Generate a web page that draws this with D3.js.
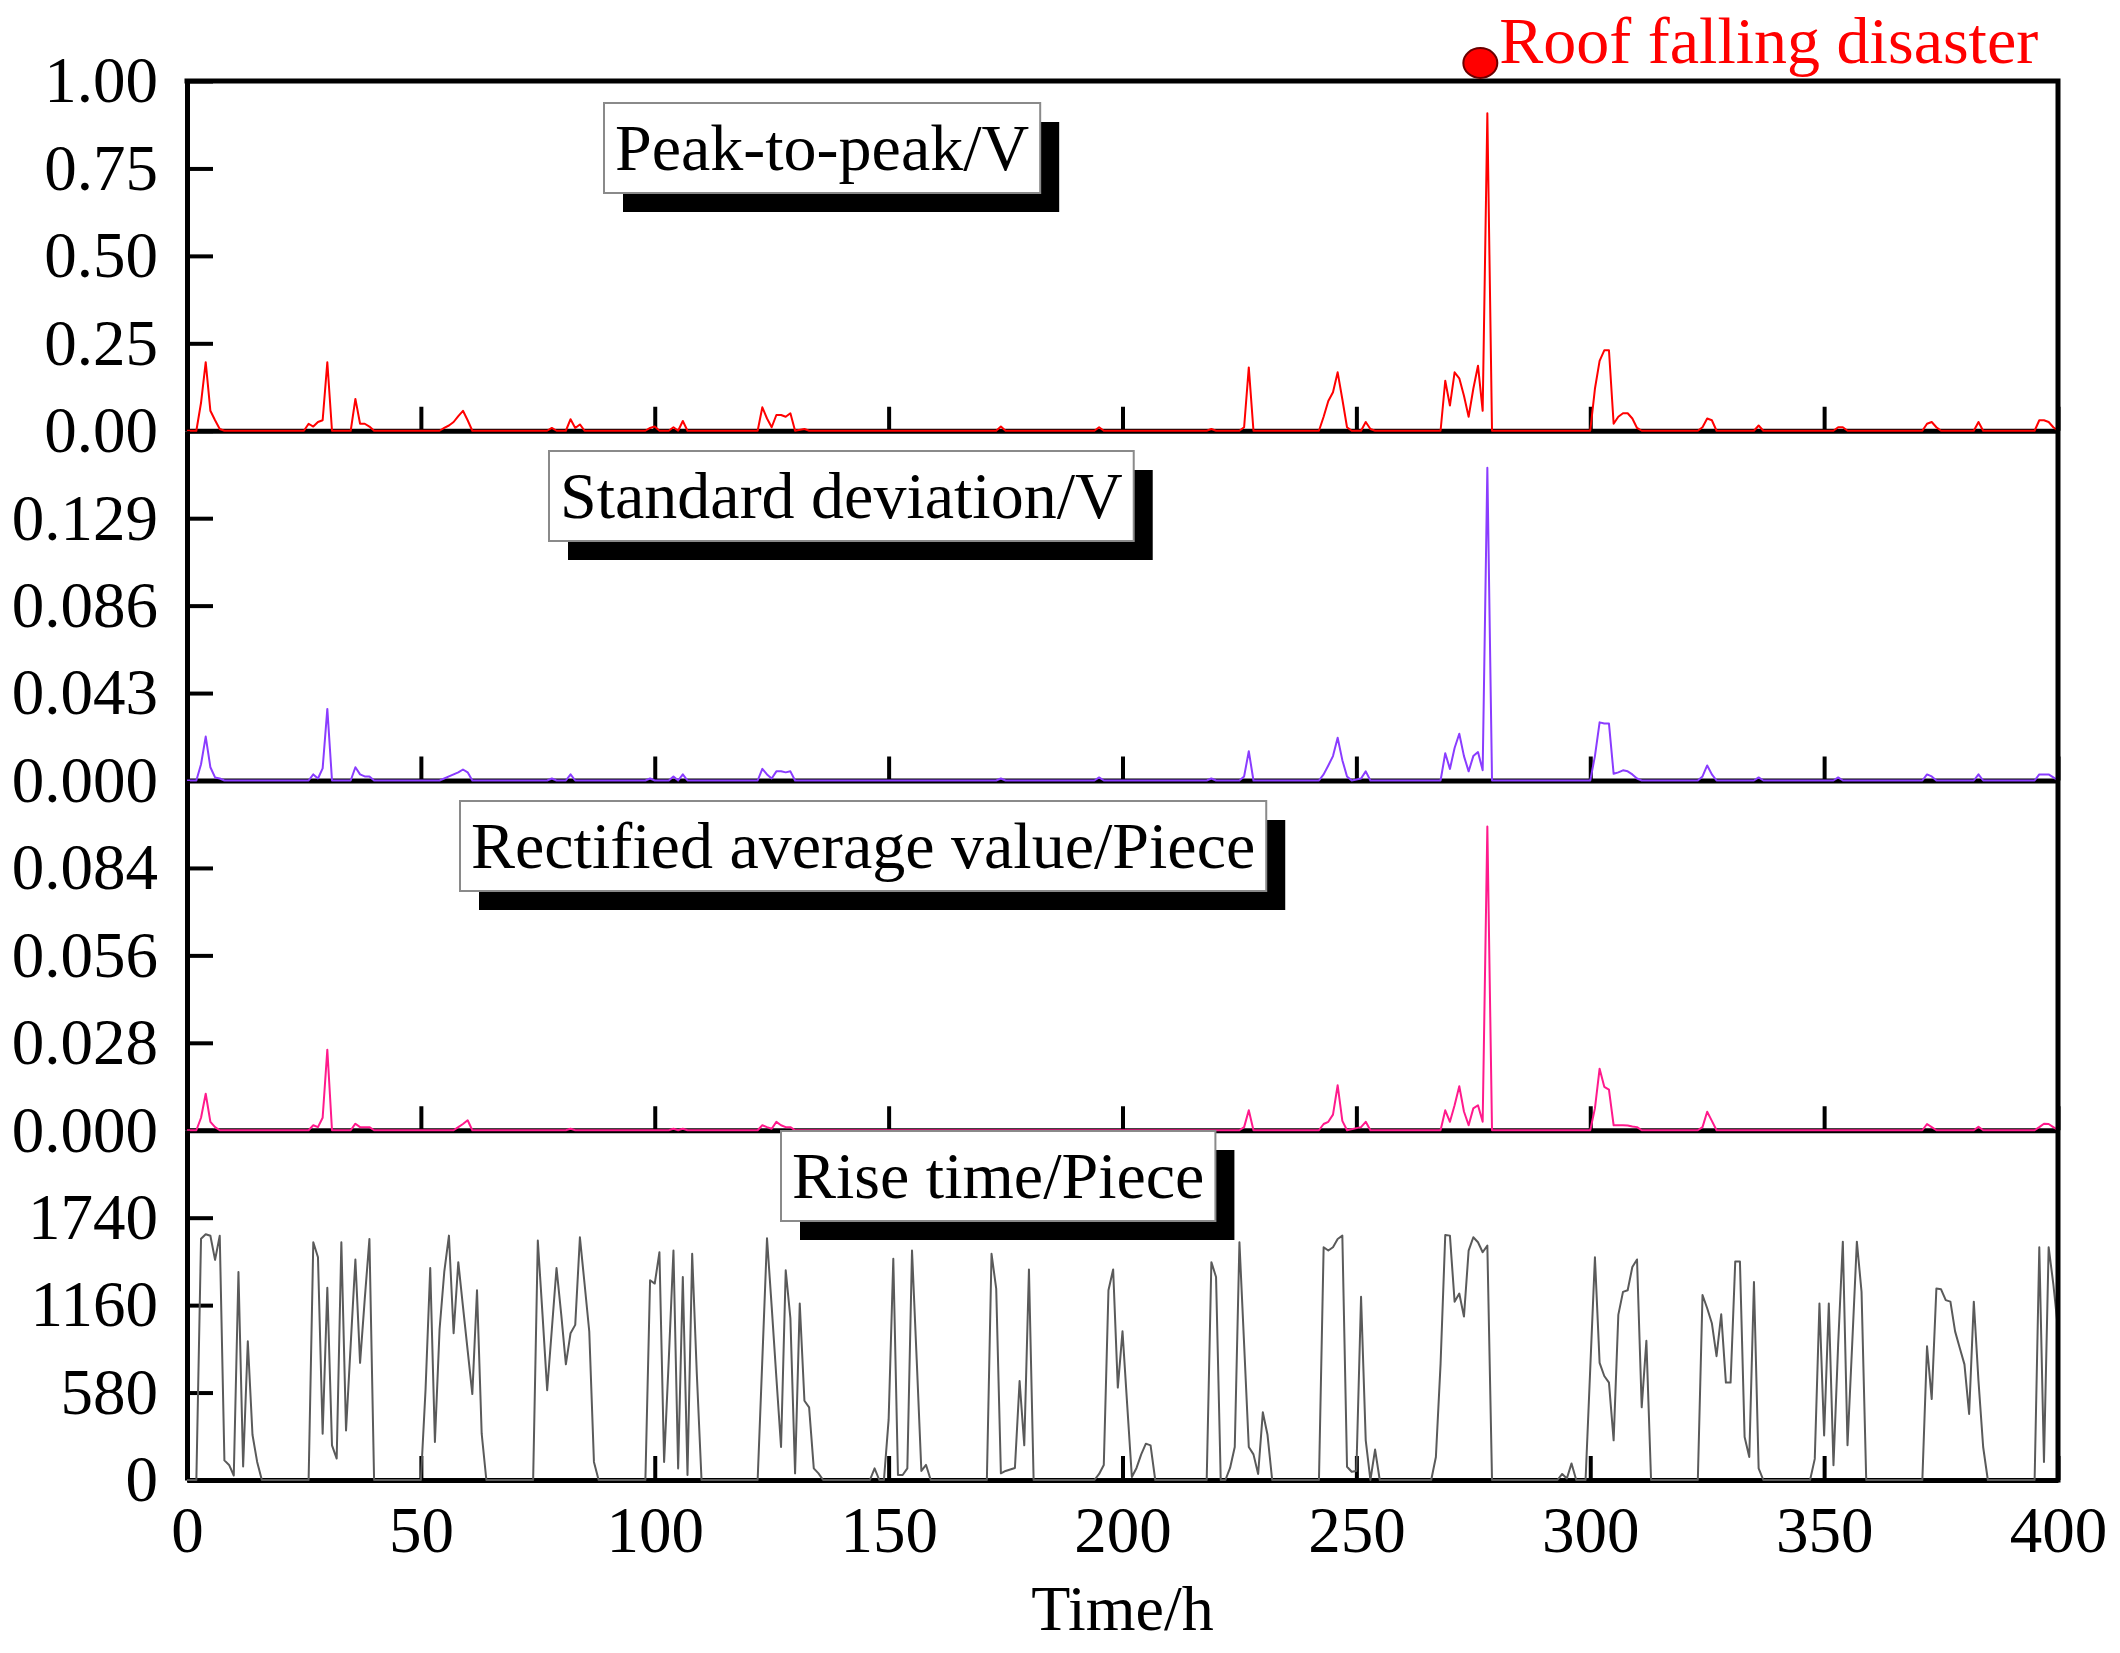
<!DOCTYPE html>
<html>
<head>
<meta charset="utf-8">
<script src="https://cdn.jsdelivr.net/npm/d3@7"></script>
<style>
  body { margin: 0; background: #fff; }
  svg { display: block; font-family: "Liberation Serif", "Times New Roman", serif; }
</style>
</head>
<body>
<div id="chart"></div>
<script>
// x axis
const xTickValues = [0, 50, 100, 150, 200, 250, 300, 350, 400];
const xAxisTitle = "Time/h";

// disaster marker
const disasterLabel = "Roof falling disaster";
const disasterHour = 276.5;

// panel names, y ranges and tick values
const panelNames = ["Peak-to-peak/V", "Standard deviation/V", "Rectified average value/Piece", "Rise time/Piece"];
const yMaxes = [1.0, 0.172, 0.112, 2320];
const ppTicks = [0, 0.25, 0.5, 0.75, 1.0];
const sdTicks = [0, 0.043, 0.086, 0.129];
const raTicks = [0, 0.028, 0.056, 0.084];
const rtTicks = [0, 580, 1160, 1740];

// [hour, value]
const peakToPeak = [
  [0,0],[2,0],[3,0.08],[4,0.196],[5,0.057],[6,0.03],[7,0.005],[8,0],
  [25,0],[26,0.02],[27,0.012],[28,0.025],[29,0.03],[30,0.196],[31,0],
  [35,0],[36,0.091],[37,0.02],[38,0.02],[39,0.012],[40,0],
  [54,0],[55,0.008],[56,0.015],[57,0.025],[58,0.042],[59,0.057],[60,0.03],[61,0],
  [77,0],[78,0.008],[79,0],[81,0],[82,0.033],[83,0.008],[84,0.018],[85,0],
  [98,0],[99,0.008],[100,0.012],[101,0],[103,0],[104,0.01],[105,0],[106,0.028],[107,0],
  [122,0],[123,0.067],[124,0.035],[125,0.01],[126,0.045],[127,0.045],[128,0.04],[129,0.05],[130,0],[132,0.005],[133,0],
  [173,0],[174,0.012],[175,0],[194,0],[195,0.01],[196,0],
  [218,0],[219,0.005],[220,0],[225,0],[226,0.01],[227,0.181],[228,0],
  [242,0],[243,0.04],[244,0.085],[245,0.11],[246,0.167],[247,0.09],[248,0.01],[249,0],[251,0],[252,0.025],[253,0.005],[254,0],
  [268,0],[269,0.143],[270,0.072],[271,0.167],[272,0.15],[273,0.1],[274,0.04],[275,0.12],[276,0.186],[277,0.057],[278,0.908],[279,0],
  [300,0],[301,0.12],[302,0.2],[303,0.23],[304,0.23],[305,0.02],[306,0.04],[307,0.05],[308,0.05],[309,0.035],[310,0.008],[311,0],
  [323,0],[324,0.01],[325,0.035],[326,0.03],[327,0],[335,0],[336,0.015],[337,0],
  [352,0],[353,0.01],[354,0.01],[355,0],
  [371,0],[372,0.02],[373,0.025],[374,0.01],[375,0],[382,0],[383,0.025],[384,0],
  [395,0],[396,0.03],[397,0.03],[398,0.025],[399,0.01],[400,0]
];

const stdDev = [
  [0,0],[2,0],[3,0.008],[4,0.0216],[5,0.0065],[6,0.0015],[7,0.001],[8,0],
  [26,0],[27,0.003],[28,0.001],[29,0.006],[30,0.0352],[31,0],
  [35,0],[36,0.0065],[37,0.003],[38,0.002],[39,0.002],[40,0],
  [54,0],[55,0.001],[56,0.002],[57,0.003],[58,0.004],[59,0.0054],[60,0.004],[61,0],
  [77,0],[78,0.001],[79,0],[81,0],[82,0.003],[83,0],
  [98,0],[99,0.001],[100,0],[103,0],[104,0.002],[105,0],[106,0.003],[107,0],
  [122,0],[123,0.0057],[124,0.003],[125,0.001],[126,0.0045],[127,0.0045],[128,0.004],[129,0.0045],[130,0],
  [173,0],[174,0.001],[175,0],[194,0],[195,0.0015],[196,0],
  [218,0],[219,0.001],[220,0],[225,0],[226,0.002],[227,0.0144],[228,0],
  [242,0],[243,0.003],[244,0.0074],[245,0.012],[246,0.021],[247,0.01],[248,0.002],[249,0],[251,0.001],[252,0.0045],[253,0],
  [268,0],[269,0.0134],[270,0.0057],[271,0.016],[272,0.023],[273,0.012],[274,0.0045],[275,0.012],[276,0.014],[277,0.005],[278,0.1538],[279,0],
  [300,0],[301,0.012],[302,0.0286],[303,0.028],[304,0.028],[305,0.0033],[306,0.004],[307,0.005],[308,0.0045],[309,0.003],[310,0.001],[311,0],
  [323,0],[324,0.002],[325,0.0074],[326,0.003],[327,0],[335,0],[336,0.0015],[337,0],[352,0],[353,0.0015],[354,0],
  [371,0],[372,0.003],[373,0.002],[374,0],[382,0],[383,0.003],[384,0],
  [395,0],[396,0.003],[397,0.003],[398,0.003],[399,0.0015],[400,0]
];

const rectAvg = [
  [0,0],[2,0],[3,0.004],[4,0.0117],[5,0.0027],[6,0.001],[7,0],
  [26,0],[27,0.0016],[28,0.001],[29,0.004],[30,0.0258],[31,0],
  [35,0],[36,0.0021],[37,0.001],[38,0.001],[39,0.001],[40,0],
  [57,0],[58,0.001],[59,0.002],[60,0.0032],[61,0],
  [81,0],[82,0.0005],[83,0],[103,0],[104,0.0005],[105,0],[106,0.0005],[107,0],
  [122,0],[123,0.0016],[124,0.001],[125,0.0005],[126,0.0027],[127,0.0016],[128,0.001],[129,0.001],[130,0],
  [225,0],[226,0.001],[227,0.0064],[228,0],
  [242,0],[243,0.002],[244,0.0027],[245,0.005],[246,0.0144],[247,0.003],[248,0],[251,0.001],[252,0.0027],[253,0],
  [268,0],[269,0.0064],[270,0.0027],[271,0.008],[272,0.0141],[273,0.006],[274,0.0016],[275,0.007],[276,0.008],[277,0.0027],[278,0.0973],[279,0],
  [300,0],[301,0.007],[302,0.0197],[303,0.0139],[304,0.013],[305,0.0016],[306,0.0016],[307,0.0016],[308,0.0015],[309,0.0012],[310,0.001],[311,0],
  [323,0],[324,0.001],[325,0.0059],[326,0.003],[327,0],
  [371,0],[372,0.002],[373,0.001],[374,0],[382,0],[383,0.0011],[384,0],
  [395,0],[396,0.001],[397,0.0021],[398,0.002],[399,0.001],[400,0]
];

const riseTime = [
  [0,0],[2,0],[3,1600],[4,1630],[5,1620],[6,1460],[7,1620],[8,130],[9,100],[10,30],[11,1380],[12,90],[13,920],[14,300],[15,120],[16,0],
  [26,0],[27,1577],[28,1478],[29,307],[30,1275],[31,230],[32,142],[33,1577],[34,329],[35,900],[36,1463],[37,777],[38,1200],[39,1599],[40,0],
  [50,0],[51,600],[52,1406],[53,252],[54,1000],[55,1380],[56,1621],[57,974],[58,1445],[59,1150],[60,860],[61,570],[62,1259],[63,307],[64,0],
  [74,0],[75,1588],[76,1100],[77,596],[78,1000],[79,1406],[80,1100],[81,767],[82,974],[83,1029],[84,1610],[85,1300],[86,985],[87,120],[88,0],
  [98,0],[99,1325],[100,1303],[101,1511],[102,120],[103,800],[104,1522],[105,77],[106,1347],[107,33],[108,1500],[109,700],[110,0],
  [122,0],[123,800],[124,1603],[125,1150],[126,680],[127,219],[128,1391],[129,1073],[130,44],[131,1171],[132,526],[133,482],[134,77],[135,44],[136,0],
  [146,0],[147,77],[148,0],[149,0],[150,400],[151,1467],[152,33],[153,33],[154,77],[155,1522],[156,800],[157,60],[158,100],[159,0],
  [171,0],[172,1500],[173,1270],[174,44],[175,60],[176,70],[177,80],[178,657],[179,230],[180,1397],[181,0],
  [194,0],[195,40],[196,100],[197,1259],[198,1397],[199,613],[200,986],[201,500],[202,20],[203,80],[204,170],[205,241],[206,230],[207,0],
  [218,0],[219,1445],[220,1347],[221,0],[222,0],[223,80],[224,219],[225,1577],[226,900],[227,219],[228,170],[229,40],[230,449],[231,300],[232,0],
  [242,0],[243,1544],[244,1522],[245,1544],[246,1599],[247,1621],[248,88],[249,55],[250,60],[251,1215],[252,263],[253,0],[254,202],[255,0],
  [266,0],[267,153],[268,770],[269,1625],[270,1621],[271,1183],[272,1237],[273,1084],[274,1522],[275,1610],[276,1577],[277,1511],[278,1555],[279,0],
  [293,0],[294,40],[295,10],[296,110],[297,0],[299,0],[300,740],[301,1478],[302,777],[303,690],[304,646],[305,263],[306,1095],[307,1248],[308,1259],[309,1413],[310,1463],[311,482],[312,924],[313,0],
  [323,0],[324,1227],[325,1139],[326,1040],[327,821],[328,1099],[329,646],[330,646],[331,1450],[332,1450],[333,285],[334,153],[335,1314],[336,77],[337,0],
  [347,0],[348,140],[349,1171],[350,296],[351,1171],[352,98],[353,900],[354,1581],[355,230],[356,900],[357,1581],[358,1248],[359,0],
  [371,0],[372,887],[373,537],[374,1270],[375,1265],[376,1193],[377,1183],[378,986],[379,876],[380,767],[381,438],[382,1183],[383,657],[384,219],[385,0],
  [395,0],[396,1544],[397,120],[398,1544],[399,1300],[400,1000]
];

const W = 2120, H = 1653;
const plotLeft = 187, plotRight = 2058, plotTop = 81, panelH = 349.75;
const plotBottom = plotTop + 4 * panelH;

const svg = d3.select("#chart").append("svg")
    .attr("width", W)
    .attr("height", H);

const x = d3.scaleLinear().domain([0, 400]).range([plotLeft, plotRight]);

const panels = [
    { name: panelNames[0], data: peakToPeak, max: yMaxes[0], ticks: ppTicks, fmt: d3.format(".2f"), color: "#ff0000", box: [604, 103] },
    { name: panelNames[1], data: stdDev, max: yMaxes[1], ticks: sdTicks, fmt: d3.format(".3f"), color: "#8a3cff", box: [549, 451] },
    { name: panelNames[2], data: rectAvg, max: yMaxes[2], ticks: raTicks, fmt: d3.format(".3f"), color: "#ff1a8c", box: [460, 801] },
    { name: panelNames[3], data: riseTime, max: yMaxes[3], ticks: rtTicks, fmt: d3.format("d"), color: "#5a5a5a", box: [781, 1131] }
];

function styleAxis(g, size) {
    g.attr("font-family", null).attr("font-size", null);
    g.select(".domain").attr("stroke", "#000").attr("stroke-width", 5);
    g.selectAll(".tick line").attr("stroke", "#000").attr("stroke-width", 4);
    g.selectAll(".tick text").attr("fill", "#000").attr("font-size", size);
}

panels.forEach((p, i) => {
    const top = plotTop + i * panelH;
    const bottom = top + panelH;
    const y = d3.scaleLinear().domain([0, p.max]).range([bottom, top]);
    const g = svg.append("g");

    const xAxis = d3.axisBottom(x)
        .tickValues(xTickValues)
        .tickSizeInner(-24)
        .tickSizeOuter(0)
        .tickPadding(26)
        .tickFormat(i === 3 ? d3.format("d") : () => "");
    g.append("g")
        .attr("transform", `translate(0,${bottom})`)
        .call(xAxis)
        .call(a => styleAxis(a, 65));

    const yAxis = d3.axisLeft(y)
        .tickValues(p.ticks)
        .tickSizeInner(-26)
        .tickSizeOuter(0)
        .tickPadding(29)
        .tickFormat(p.fmt);
    g.append("g")
        .attr("transform", `translate(${plotLeft},0)`)
        .call(yAxis)
        .call(a => styleAxis(a, 65));

    const line = d3.line().x(d => x(d[0])).y(d => y(d[1]));
    g.append("path")
        .datum(p.data)
        .attr("d", line)
        .attr("fill", "none")
        .attr("stroke", p.color)
        .attr("stroke-width", 2)
        .attr("stroke-linejoin", "round");

    // label box with black shadow
    const bx = p.box[0], by = p.box[1];
    const lbl = g.append("g");
    const txt = lbl.append("text")
        .attr("x", bx + 11)
        .attr("y", by + 67)
        .attr("font-size", 66)
        .attr("fill", "#000")
        .text(p.name);
    const bw = txt.node().getComputedTextLength() + 22;
    lbl.insert("rect", "text")
        .attr("x", bx + 19).attr("y", by + 19)
        .attr("width", bw).attr("height", 90)
        .attr("fill", "#000");
    lbl.insert("rect", "text")
        .attr("x", bx).attr("y", by)
        .attr("width", bw).attr("height", 90)
        .attr("fill", "#fff")
        .attr("stroke", "#8a8a8a")
        .attr("stroke-width", 2);
});

// frame top and right
svg.append("path")
    .attr("d", `M${plotLeft},${plotTop}H${plotRight}V${plotBottom}`)
    .attr("fill", "none")
    .attr("stroke", "#000")
    .attr("stroke-width", 5)
    .attr("stroke-linecap", "square");

svg.append("text")
    .attr("x", (plotLeft + plotRight) / 2)
    .attr("y", 1630)
    .attr("text-anchor", "middle")
    .attr("font-size", 64)
    .attr("fill", "#000")
    .text(xAxisTitle);

// disaster marker
svg.append("ellipse")
    .attr("cx", x(disasterHour))
    .attr("cy", 63)
    .attr("rx", 17)
    .attr("ry", 15)
    .attr("fill", "#ff0000")
    .attr("stroke", "#6a0000")
    .attr("stroke-width", 2);

svg.append("text")
    .attr("x", x(disasterHour) + 19)
    .attr("y", 63)
    .attr("font-size", 66)
    .attr("fill", "#ff0000")
    .text(disasterLabel);
</script>
</body>
</html>
